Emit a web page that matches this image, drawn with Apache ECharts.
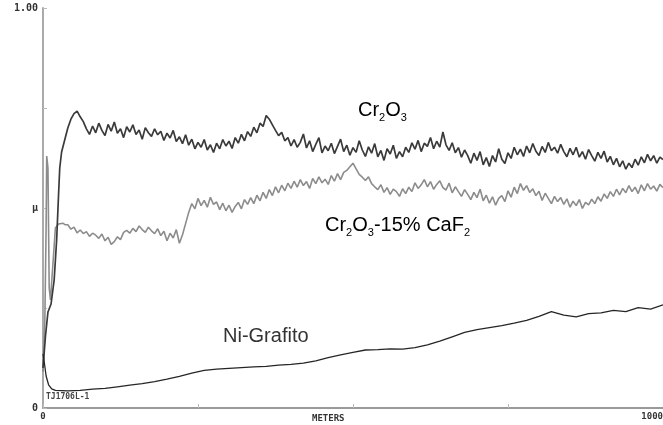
<!DOCTYPE html>
<html>
<head>
<meta charset="utf-8">
<title>Cr2O3 / Ni-Grafito</title>
<script src="https://cdn.jsdelivr.net/npm/echarts@6/dist/echarts.min.js"></script>
<style>
    html, body { margin: 0; padding: 0; background: #fff; }
    #chart { width: 663px; height: 425px; }
</style>
</head>
<body>
<div id="chart"></div>
<script>
// eje x: metros, eje y: coeficiente de friccion
var xTicks = [0, 250, 500, 750, 1000];
var yTicks = [0, 0.25, 0.5, 0.75, 1];

// tramo inicial (pares [metros, mu])
var cr2o3Start = [[0, 0.10], [4, 0.18], [8, 0.24], [13, 0.26], [18, 0.32], [22, 0.42], [25, 0.53], [27, 0.60], [30, 0.64], [35, 0.67]];
var cafStart = [[0, 0.09], [3, 0.22], [5, 0.45], [6, 0.63], [8, 0.60], [9, 0.45], [10, 0.30], [12, 0.27], [16, 0.36], [20, 0.45], [25, 0.46], [32, 0.462], [36, 0.458]];
var niStart = [[0, 0.135], [2, 0.115], [5, 0.08], [9, 0.058], [14, 0.048]];

// resto del ensayo, un valor cada 5 m desde 40 m
var bodyFrom = 40, bodyStep = 5;
var cr2o3 = [
    0.700, 0.722, 0.736, 0.742, 0.728, 0.716, 0.698, 0.684, 0.705, 0.688,
    0.712, 0.694, 0.681, 0.709, 0.692, 0.715, 0.687, 0.698, 0.676, 0.703,
    0.690, 0.708, 0.684, 0.695, 0.672, 0.701, 0.688, 0.679, 0.698, 0.683,
    0.692, 0.669, 0.687, 0.675, 0.694, 0.666, 0.678, 0.661, 0.683, 0.657,
    0.672, 0.648, 0.664, 0.652, 0.671, 0.645, 0.658, 0.639, 0.662, 0.648,
    0.671, 0.655, 0.667, 0.649, 0.676, 0.662, 0.684, 0.668, 0.691, 0.679,
    0.702, 0.688, 0.712, 0.704, 0.731, 0.722, 0.708, 0.694, 0.681, 0.689,
    0.668, 0.676, 0.655, 0.671, 0.652, 0.664, 0.685, 0.650, 0.668, 0.641,
    0.659, 0.676, 0.638, 0.655, 0.643, 0.662, 0.636, 0.654, 0.672, 0.641,
    0.657, 0.632, 0.651, 0.639, 0.668, 0.645, 0.629, 0.653, 0.637, 0.661,
    0.628, 0.644, 0.619, 0.648, 0.635, 0.657, 0.624, 0.641, 0.628, 0.652,
    0.639, 0.663, 0.647, 0.669, 0.641, 0.662, 0.654, 0.676, 0.648, 0.667,
    0.652, 0.690, 0.658, 0.644, 0.663, 0.638, 0.651, 0.627, 0.645, 0.631,
    0.612, 0.637, 0.619, 0.641, 0.608, 0.626, 0.604, 0.631, 0.615, 0.648,
    0.622, 0.611, 0.638, 0.624, 0.652, 0.633, 0.647, 0.629, 0.655, 0.638,
    0.661, 0.642, 0.631, 0.654, 0.639, 0.664, 0.643, 0.652, 0.637, 0.659,
    0.641, 0.628, 0.649, 0.633, 0.652, 0.627, 0.641, 0.622, 0.646, 0.631,
    0.617, 0.639, 0.624, 0.642, 0.615, 0.629, 0.608, 0.624, 0.603, 0.618,
    0.597, 0.612, 0.601, 0.622, 0.607, 0.628, 0.613, 0.634, 0.618, 0.631,
    0.612, 0.627, 0.621
];
var cr2o3Caf2 = [
    0.458, 0.447, 0.452, 0.438, 0.445, 0.436, 0.441, 0.429, 0.437, 0.432,
    0.424, 0.435, 0.418, 0.427, 0.409, 0.416, 0.428, 0.421, 0.439, 0.444,
    0.437, 0.449, 0.441, 0.455, 0.446, 0.439, 0.452, 0.443, 0.436, 0.448,
    0.431, 0.442, 0.418, 0.437, 0.425, 0.446, 0.412, 0.433, 0.461, 0.489,
    0.511, 0.498, 0.524, 0.506, 0.519, 0.502, 0.527, 0.509, 0.515, 0.496,
    0.512, 0.493, 0.507, 0.489, 0.504, 0.514, 0.498, 0.521, 0.509, 0.526,
    0.511, 0.532, 0.518, 0.539, 0.524, 0.546, 0.531, 0.553, 0.538, 0.557,
    0.543, 0.562, 0.549, 0.567, 0.552, 0.571, 0.556, 0.566, 0.549, 0.574,
    0.561, 0.578, 0.563, 0.572, 0.559, 0.581, 0.567, 0.586, 0.571, 0.589,
    0.594, 0.603, 0.612, 0.598, 0.584, 0.577, 0.569, 0.578, 0.561, 0.553,
    0.546, 0.558, 0.539, 0.551, 0.534, 0.547, 0.541, 0.529, 0.548, 0.536,
    0.552, 0.541, 0.563, 0.549, 0.558, 0.571, 0.553, 0.566, 0.547, 0.559,
    0.568, 0.551, 0.545, 0.562, 0.538, 0.553, 0.541, 0.529, 0.546, 0.534,
    0.521, 0.539, 0.526, 0.547, 0.518, 0.532, 0.512, 0.528, 0.507, 0.524,
    0.531, 0.516, 0.543, 0.527, 0.552, 0.536, 0.561, 0.544, 0.556, 0.539,
    0.548, 0.531, 0.542, 0.519, 0.537, 0.524, 0.511, 0.529, 0.516, 0.526,
    0.509, 0.523, 0.502, 0.517, 0.506, 0.521, 0.499, 0.514, 0.508, 0.522,
    0.511, 0.528, 0.517, 0.535, 0.524, 0.541, 0.529, 0.547, 0.533, 0.549,
    0.538, 0.556, 0.541, 0.552, 0.536, 0.558, 0.543, 0.561, 0.547, 0.555,
    0.542, 0.559, 0.551
];

// Ni-Grafito, un valor cada 20 m desde 20 m
var niFrom = 20, niStep = 20;
var niGrafito = [
    0.044, 0.043, 0.044, 0.047, 0.049, 0.053, 0.057, 0.061, 0.066, 0.072,
    0.079, 0.087, 0.094, 0.097, 0.099, 0.101, 0.103, 0.104, 0.107, 0.109,
    0.112, 0.118, 0.126, 0.133, 0.139, 0.145, 0.146, 0.148, 0.147, 0.151,
    0.158, 0.167, 0.178, 0.189, 0.196, 0.201, 0.206, 0.212, 0.219, 0.229,
    0.241, 0.232, 0.228, 0.236, 0.238, 0.244, 0.241, 0.251, 0.247, 0.258
];

// junta el tramo inicial con la serie a paso fijo
function build(start, values, from, step) {
    return start.concat(values.map(function (v, i) { return [from + i * step, v]; }));
}

var chart = echarts.init(document.getElementById('chart'), null, { renderer: 'canvas' });

var labelFont = 'DejaVu Sans Mono';
var noteFont = 'Liberation Sans';
var noteRich = {
    n: { fontFamily: noteFont, fontSize: 20, color: '#333', lineHeight: 22, verticalAlign: 'bottom' },
    s: { fontFamily: noteFont, fontSize: 11, color: '#333', lineHeight: 22, verticalAlign: 'bottom', padding: [0, 0, -3, 0] }
};

var option = {
    animation: false,
    backgroundColor: '#fff',
    grid: { left: 43, right: 0, top: 8, bottom: 17, outerBoundsMode: 'none', containLabel: false },
    xAxis: {
        type: 'value',
        min: xTicks[0],
        max: xTicks[xTicks.length - 1],
        interval: 250,
        axisLine: { lineStyle: { color: '#999', width: 2 } },
        axisTick: { inside: true, length: 4, lineStyle: { color: '#bbb' } },
        splitLine: { show: false },
        axisLabel: {
            margin: 4,
            fontFamily: labelFont,
            fontSize: 9,
            fontWeight: 'bold',
            color: '#333',
            alignMaxLabel: 'right',
            formatter: function (v) {
                if (v === 0 || v === 1000) return String(v);
                return '';
            }
        }
    },
    yAxis: {
        type: 'value',
        min: yTicks[0],
        max: yTicks[yTicks.length - 1],
        interval: 0.25,
        axisLine: { show: true, lineStyle: { color: '#aaa', width: 2 } },
        axisTick: { show: true, inside: true, length: 4, lineStyle: { color: '#bbb' } },
        splitLine: { show: false },
        axisLabel: {
            margin: 5,
            fontFamily: labelFont,
            fontSize: 10,
            fontWeight: 'bold',
            color: '#333',
            formatter: function (v) {
                if (v === 1) return '1.00';
                if (v === 0.5) return 'μ';
                if (v === 0) return '0';
                return '';
            }
        }
    },
    series: [{
        name: 'Cr2O3-15% CaF2',
        type: 'line',
        showSymbol: false,
        lineStyle: { color: '#8c8c8c', width: 1.6 },
        data: build(cafStart, cr2o3Caf2, bodyFrom, bodyStep)
    }, {
        name: 'Cr2O3',
        type: 'line',
        showSymbol: false,
        lineStyle: { color: '#3a3a3a', width: 1.7 },
        data: build(cr2o3Start, cr2o3, bodyFrom, bodyStep)
    }, {
        name: 'Ni-Grafito',
        type: 'line',
        showSymbol: false,
        lineStyle: { color: '#262626', width: 1.3 },
        data: build(niStart, niGrafito, niFrom, niStep)
    }],
    graphic: [{
        type: 'text', left: 358, top: 100,
        style: { text: '{n|Cr}{s|2}{n|O}{s|3}', rich: noteRich }
    }, {
        type: 'text', left: 325, top: 215,
        style: { text: '{n|Cr}{s|2}{n|O}{s|3}{n|-15% CaF}{s|2}', rich: noteRich }
    }, {
        type: 'text', left: 223, top: 326,
        style: { text: 'Ni-Grafito', fontFamily: noteFont, fontSize: 20, fill: '#333' }
    }, {
        // titulo del eje x
        type: 'text', left: 312, top: 414,
        style: { text: 'METERS', fontFamily: labelFont, fontSize: 9, fontWeight: 'bold', fill: '#333' }
    }, {
        type: 'text', left: 46, top: 393,
        style: { text: 'TJ1706L-1', fontFamily: labelFont, fontSize: 8, fontWeight: 'bold', fill: '#444' }
    }]
};

chart.setOption(option);
</script>
</body>
</html>
